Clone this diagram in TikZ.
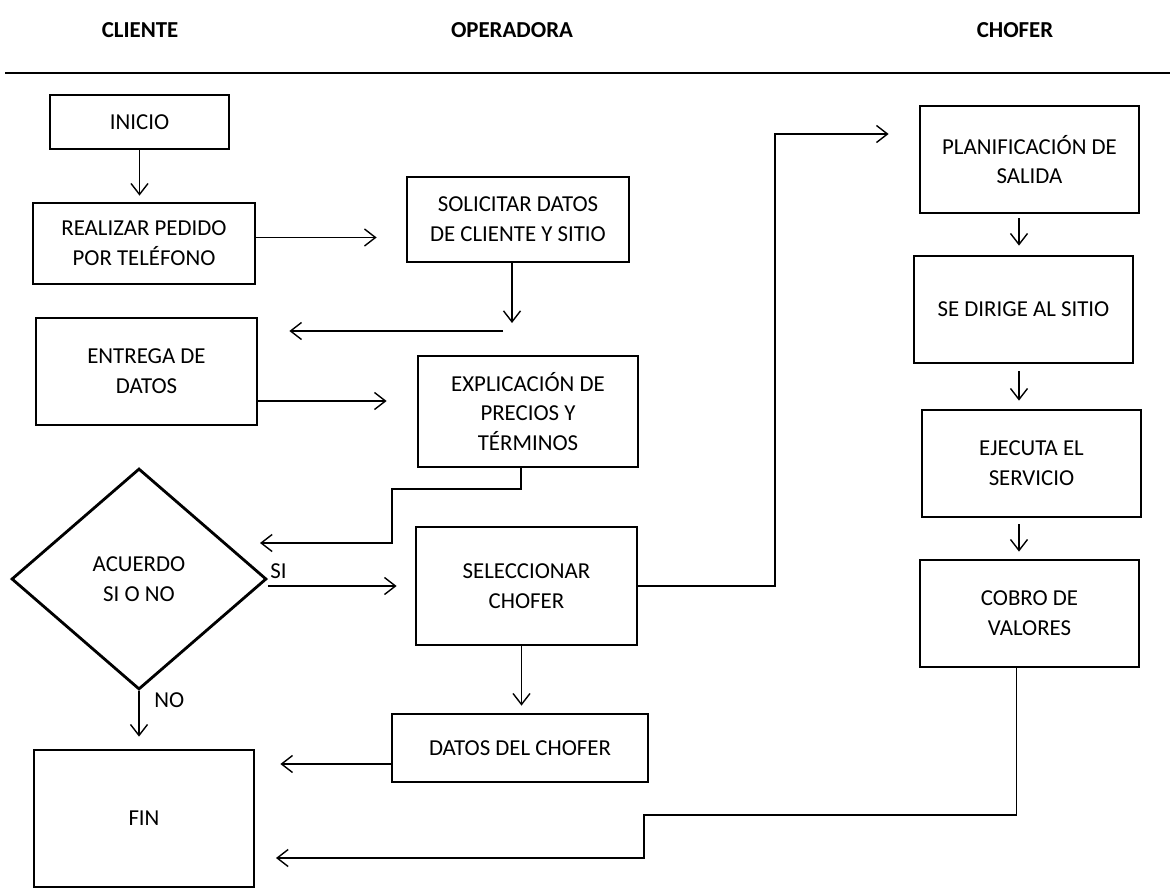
\documentclass[tikz,border=0pt]{standalone}
\usepackage{fontspec}
\setmainfont{Carlito}
\usetikzlibrary{arrows.meta,shapes.geometric,calc}

\begin{document}
\begin{tikzpicture}[x=0.02cm,y=-0.02cm,
  every node/.style={font=\fontsize{13}{17}\selectfont, align=center, inner sep=0pt},
  box/.style={draw, rectangle, line width=1.6pt},
  conn/.style={line width=0.8pt, -{Straight Barb[length=2.2mm,width=3.4mm]}}]

\useasboundingbox (0,0) rectangle (1170,889);

% cabecera
\node[font=\fontsize{13}{17}\selectfont\bfseries] (hcli) at (140,30) {CLIENTE};
\node[font=\fontsize{13}{17}\selectfont\bfseries] (hope) at (512,30) {OPERADORA};
\node[font=\fontsize{13}{17}\selectfont\bfseries] (hcho) at (1015,30) {CHOFER};
\coordinate (la) at (5,73);
\coordinate (lb) at (1170,73);
\draw[line width=1pt] (la) -- (lb);

% cliente
\node[box, minimum width=3.58cm, minimum height=1.08cm] (inicio) at (139.5,122) {INICIO};
\node[box, minimum width=4.44cm, minimum height=1.62cm] (pedido) at (144,243.5) {REALIZAR PEDIDO\\POR TELÉFONO};
\node[box, minimum width=4.42cm, minimum height=2.14cm] (entrega) at (146.5,371.5) {ENTREGA DE\\DATOS};
\node[draw, diamond, line width=1.6pt, minimum width=5.1cm, minimum height=4.42cm] (acuerdo) at (139,579) {ACUERDO\\SI O NO};
\node[box, minimum width=4.40cm, minimum height=2.74cm] (fin) at (144,818.5) {FIN};

% operadora
\node[box, minimum width=4.44cm, minimum height=1.70cm] (solicitar) at (518,219.5) {SOLICITAR DATOS\\DE CLIENTE Y SITIO};
\node[box, minimum width=4.40cm, minimum height=2.22cm] (explicacion) at (528,411.5) {EXPLICACIÓN DE\\PRECIOS Y\\TÉRMINOS};
\node[box, minimum width=4.42cm, minimum height=2.36cm] (seleccionar) at (526.5,586) {SELECCIONAR\\CHOFER};
\node[box, minimum width=5.12cm, minimum height=1.36cm] (datos) at (520,748) {DATOS DEL CHOFER};

% chofer
\node[box, minimum width=4.38cm, minimum height=2.14cm] (planif) at (1029.5,159.5) {PLANIFICACIÓN DE\\SALIDA};
\node[box, minimum width=4.38cm, minimum height=2.14cm] (dirige) at (1023.5,309.5) {SE DIRIGE AL SITIO};
\node[box, minimum width=4.38cm, minimum height=2.14cm] (ejecuta) at (1031.5,463.5) {EJECUTA EL\\SERVICIO};
\node[box, minimum width=4.38cm, minimum height=2.14cm] (cobro) at (1029.5,613.5) {COBRO DE\\VALORES};

% etiquetas
\node[anchor=base west] (si) at (270,578) {SI};
\node[anchor=base west] (no) at (154,707) {NO};

% conectores
\draw[conn, shorten >=0.12cm] (inicio.south) -- (inicio.south |- pedido.north);
\draw[conn, shorten >=0.58cm] ($(pedido.east)+(0,-6)$) -- ($(solicitar.west |- pedido.east)+(0,-6)$);

\coordinate (drop) at (512,323);
\coordinate (back) at (503,331);
\draw[conn] (drop |- solicitar.south) -- (drop);
\draw[conn, shorten >=0.62cm] (back) -- (back -| entrega.east);

\draw[conn, shorten >=0.6cm] ($(entrega.east)+(0,29.5)$) -- ($(explicacion.west |- entrega.east)+(0,29.5)$);

\coordinate (e1) at (392,489);
\coordinate (siin) at (260,543);
\draw[conn] ($(explicacion.south)+(-7,0)$) |- (e1) |- (siin);

\draw[conn, shorten >=0.36cm] (acuerdo.east |- seleccionar.west) -- (seleccionar.west);
\draw[conn, shorten >=0.24cm] (acuerdo.south) -- (acuerdo.south |- fin.north);

\coordinate (p1) at (775,134);
\draw[conn, shorten >=0.6cm] (seleccionar.east) -| (p1) -- (p1 -| planif.west);

\draw[conn, shorten >=0.14cm] ($(seleccionar.south)+(-5,0)$) -- ($(seleccionar.south |- datos.north)+(-5,0)$);
\draw[conn, shorten >=0.5cm] ($(datos.west)+(0,16)$) -- ($(fin.east |- datos.west)+(0,16)$);

\coordinate (rc) at (1019,0);
\draw[conn, shorten <=0.08cm, shorten >=0.18cm] (rc |- planif.south) -- (rc |- dirige.north);
\draw[conn, shorten <=0.14cm, shorten >=0.16cm] (rc |- dirige.south) -- (rc |- ejecuta.north);
\draw[conn, shorten <=0.12cm, shorten >=0.14cm] (rc |- ejecuta.south) -- (rc |- cobro.north);

\coordinate (c1) at (644,815);
\coordinate (finin) at (276,858);
\draw[conn] ($(cobro.south)+(-13,0)$) |- (c1) |- (finin);

\end{tikzpicture}
\end{document}
